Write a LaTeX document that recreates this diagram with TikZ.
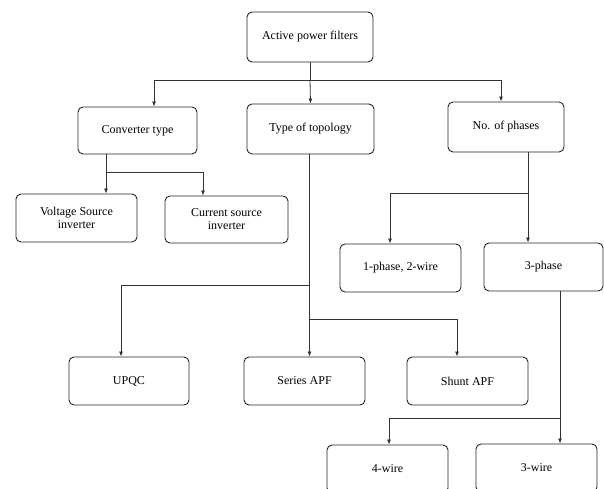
\documentclass[tikz,border=0pt]{standalone}
\usepackage{fontspec}
\setmainfont{Liberation Serif}
\usetikzlibrary{arrows.meta}
\begin{document}
\begin{tikzpicture}[x=1pt,y=-1pt,
  box/.style={draw=black!85, line width=0.9pt, rounded corners=5pt, inner sep=0pt,
    align=center, font=\fontsize{12}{13}\selectfont, text=black},
  link/.style={draw=black!80, line width=0.8pt},
  arr/.style={link, -{Latex[length=5pt,width=4pt]}}]
\useasboundingbox (0,0) rectangle (604,489);
\fill[white] (0,0) rectangle (604,489);
\clip (0,0) rectangle (604,489);

\node[box, minimum width=126pt, minimum height=50pt] (apf) at (310,37) {Active power filters};
\node[box, minimum width=119pt, minimum height=47pt] (conv) at (137.5,130.5) {Converter type};
\node[box, minimum width=127pt, minimum height=50pt] (topo) at (310.5,129) {Type of topology};
\node[box, minimum width=116pt, minimum height=50pt] (phases) at (506,127) {No. of phases};
\node[box, minimum width=121pt, minimum height=48pt] (vsi) at (76.5,218) {Voltage Source\\inverter};
\node[box, minimum width=123pt, minimum height=47pt] (csi) at (226.5,219.5) {Current source\\inverter};
\node[box, minimum width=121pt, minimum height=48pt] (p1) at (400.5,268) {1-phase, 2-wire};
\node[box, minimum width=119pt, minimum height=48pt] (p3) at (543.5,267) {3-phase};
\node[box, minimum width=120pt, minimum height=48pt] (upqc) at (129,381) {UPQC};
\node[box, minimum width=121pt, minimum height=48pt] (series) at (304.5,381) {Series APF};
\node[box, minimum width=121pt, minimum height=48pt] (shunt) at (467.5,381) {Shunt APF};
\node[box, minimum width=121pt, minimum height=48pt] (w4) at (387.5,469) {4-wire};
\node[box, minimum width=121pt, minimum height=48pt] (w3) at (536.5,468) {3-wire};

% level 1
\coordinate (j1) at (310,80);
\draw[link] (apf.south) -- (j1);
\draw[arr] (j1) -| ([xshift=16.5pt]conv.north);
\draw[arr] (j1) -- (topo.north);
\draw[arr] (j1) -| ([xshift=-5pt]phases.north);

% converter type
\coordinate (j2) at (106,172);
\draw[link] ([xshift=-31.5pt]conv.south) -- (j2);
\draw[arr] (j2) -- ([xshift=29.5pt]vsi.north);
\draw[arr] (j2) -| ([xshift=-23.5pt]csi.north);

% number of phases
\coordinate (j3) at (528,193);
\draw[link] ([xshift=22pt]phases.south) -- (j3);
\draw[arr] (j3) -| ([xshift=-10.5pt]p1.north);
\draw[arr] (j3) -- ([xshift=-15.5pt]p3.north);

% topology
\draw[arr] ([xshift=-1pt]topo.south) -- ([xshift=5pt]series.north);
\coordinate (j4) at (309.5,285);
\coordinate (j5) at (309.5,319);
\draw[arr] (j4) -| ([xshift=-8pt]upqc.north);
\draw[arr] (j5) -| ([xshift=-10.5pt]shunt.north);

% 3-phase
\draw[arr] ([xshift=16.5pt]p3.south) -- ([xshift=23.5pt]w3.north);
\coordinate (j6) at (560,418);
\draw[arr] (j6) -| ([xshift=1.5pt]w4.north);
\end{tikzpicture}
\end{document}
